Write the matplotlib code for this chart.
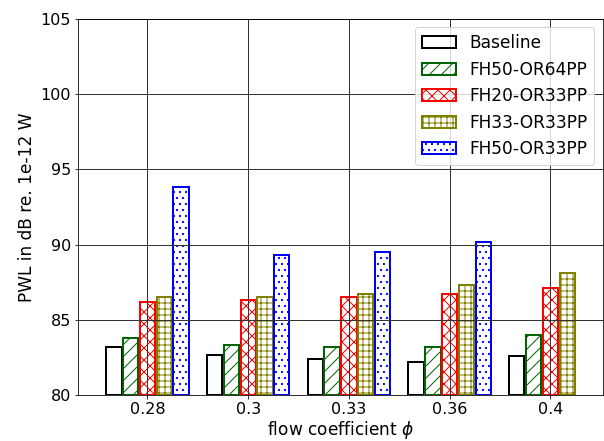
import numpy as np
import matplotlib
matplotlib.use('Agg')
import matplotlib.pyplot as plt

# flow coefficients (categories)
phi_labels = ['0.28', '0.3', '0.33', '0.36', '0.4']

# PWL in dB re. 1e-12 W
baseline = [83.2, 82.7, 82.4, 82.2, 82.6]
fh50_or64pp = [83.8, 83.3, 83.2, 83.2, 84.0]
fh20_or33pp = [86.2, 86.3, 86.5, 86.7, 87.1]
fh33_or33pp = [86.5, 86.5, 86.7, 87.3, 88.1]
fh50_or33pp = [93.8, 89.3, 89.5, 90.2, np.nan]

# data, edge color, hatch, label
series = [
    [baseline, 'k', '', 'Baseline'],
    [fh50_or64pp, 'darkgreen', '//', 'FH50-OR64PP'],
    [fh20_or33pp, 'r', 'xx', 'FH20-OR33PP'],
    [fh33_or33pp, 'olive', '++', 'FH33-OR33PP'],
    [fh50_or33pp, 'b', '..', 'FH50-OR33PP'],
]

plt.rcParams['font.size'] = 16

fig = plt.figure(figsize=(604/72, 441/72), dpi=72)
ax = fig.add_axes([0.129, 0.104, 0.869, 0.853])

x = np.arange(len(phi_labels))
step = 1.0/6
w = 0.152
for i, (vals, col, hatch, lab) in enumerate(series):
    ax.bar(x + (i - 2)*step, np.array(vals) - 80, w, bottom=80, fill=False,
           edgecolor=col, hatch=hatch, linewidth=2, label=lab)

ax.set_xticks(x)
ax.set_xticklabels(phi_labels)
ax.set_xlim(-0.69, 4.52)
ax.set_ylim(80, 105)
ax.set_xlabel(r'flow coefficient $\phi$', fontsize=17, labelpad=2)
ax.set_ylabel('PWL in dB re. 1e-12 W', fontsize=17)
ax.grid(True, color='0.2', linewidth=1)
ax.legend(loc='upper right', fontsize=17)

fig.savefig('out.png', dpi=72)
